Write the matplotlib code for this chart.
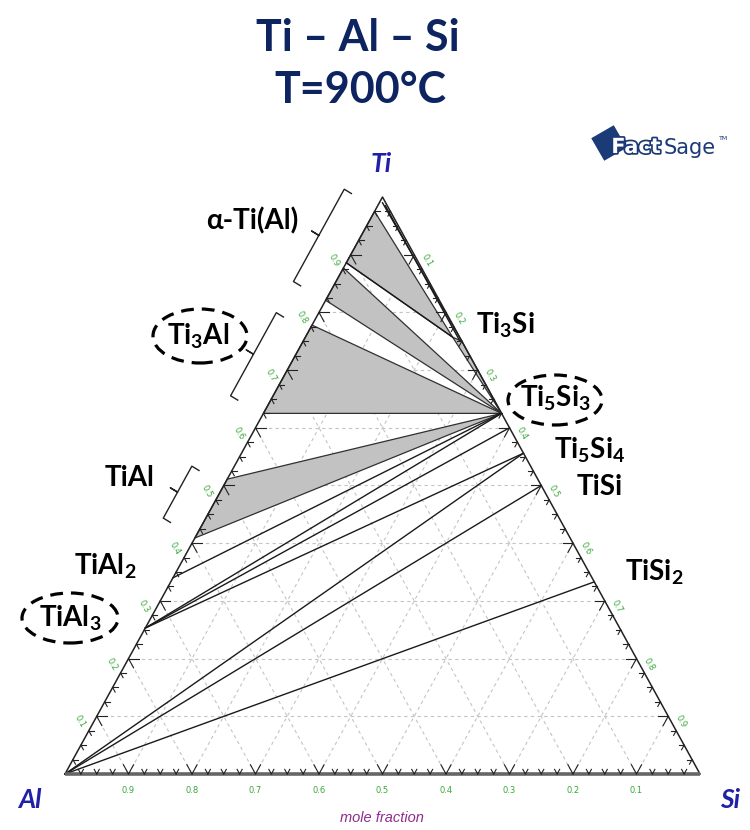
import numpy as np
import matplotlib
matplotlib.use("Agg")
import matplotlib.pyplot as plt
from matplotlib.patches import Polygon, Ellipse
from matplotlib.transforms import Affine2D
import matplotlib.patheffects as pe

plt.rcParams["mathtext.fontset"] = "custom"
plt.rcParams["mathtext.rm"] = "Lato:bold"
plt.rcParams["mathtext.it"] = "Lato:bold:italic"
plt.rcParams["mathtext.bf"] = "Lato:bold"

# ---------------- data (mole fractions: x_Ti, x_Si ; x_Al = 1 - x_Ti - x_Si) ----------------
title_lines = ["Ti – Al – Si", "T=900°C"]
corner_labels = ["Ti", "Al", "Si"]
tick_values = [0.1, 0.2, 0.3, 0.4, 0.5, 0.6, 0.7, 0.8, 0.9]

# two-phase (shaded) regions, vertices as (x_Ti, x_Si)
region_alpha_Ti3Si = [(0.975, 0.0), (0.757, 0.232), (0.886, 0.0)]
region_Ti3Si_Ti5Si3 = [(0.757, 0.232), (0.75, 0.25), (0.625, 0.375)]
region_alpha_Ti5Si3 = [(0.877, 0.0), (0.625, 0.375), (0.821, 0.0)]
region_Ti3Al_Ti5Si3 = [(0.778, 0.0), (0.625, 0.375), (0.625, 0.0)]
region_TiAl_Ti5Si3 = [(0.511, 0.0), (0.625, 0.375), (0.409, 0.0)]
shaded_regions = [region_alpha_Ti3Si, region_Ti3Si_Ti5Si3, region_alpha_Ti5Si3,
                  region_Ti3Al_Ti5Si3, region_TiAl_Ti5Si3]

# tie lines (start, end) as (x_Ti, x_Si)
tie_start = [(0.886, 0.0), (0.99, 0.005), (0.985, 0.012), (0.34, 0.0), (0.253, 0.0),
             (0.253, 0.0), (0.253, 0.0), (0.0, 0.0), (0.0, 0.0), (0.0, 0.0)]
tie_end = [(0.757, 0.232), (0.75, 0.25), (0.752, 0.245), (0.625, 0.375), (0.625, 0.375),
           (0.60, 0.40), (0.556, 0.444), (0.556, 0.444), (0.5, 0.5), (0.333, 0.667)]

# phase labels
phase_labels = ["α-Ti(Al)", "Ti$_3$Al", "TiAl", "TiAl$_2$", "TiAl$_3$",
                "Ti$_3$Si", "Ti$_5$Si$_3$", "Ti$_5$Si$_4$", "TiSi", "TiSi$_2$"]
# brackets on Ti-Al edge (x_Ti ranges)
bracket_ranges = [(0.82, 0.98), (0.622, 0.766), (0.41, 0.50)]

# ---------------- figure ----------------
W, H = 750, 830
fig = plt.figure(figsize=(W / 100, H / 100), dpi=100)
ax = fig.add_axes([0, 0, 1, 1])
SQ3 = np.sqrt(3) / 2
sx = 635.0            # px per data unit in x
sy = 577.0 / SQ3      # px per data unit in y
ax.set_xlim(-65 / sx, (W - 65) / sx)
ax.set_ylim(-(H - 774) / sy, 774 / sy)
ax.axis("off")


def T(ti, si):
    return si + 0.5 * ti, ti * SQ3


def fpos(px, py):
    return px / W, 1 - py / H


LABEL_FONT = ["Lato", "DejaVu Sans"]

# grid
for v in tick_values:
    for a, b in [(T(v, 0), T(v, 1 - v)), (T(0, v), T(1 - v, v)), (T(1 - v, 0), T(0, 1 - v))]:
        ax.plot([a[0], b[0]], [a[1], b[1]], ls=(0, (3, 3)), color="#c4c4c4", lw=0.8, zorder=1)

# shaded regions
for reg in shaded_regions:
    pts = [T(ti, si) for ti, si in reg]
    ax.add_patch(Polygon(pts, closed=True, facecolor="#c2c2c2", edgecolor="#303030",
                         lw=0.9, zorder=2))

# tie lines
for (a, b) in zip(tie_start, tie_end):
    xs, ys = zip(T(*a), T(*b))
    ax.plot(xs, ys, color="#1a1a1a", lw=1.0, zorder=3)

# triangle edges
xs, ys = zip(T(0, 0), T(1, 0), T(0, 1))
ax.plot(xs, ys, color="#222222", lw=1.1, zorder=4)
xs, ys = zip(T(0, 0), T(0, 1))
ax.plot(xs, ys, color="#666666", lw=2.6, zorder=4, solid_capstyle="butt")

# ticks
minor = np.arange(0.025, 0.976, 0.025)
for v in minor:
    major = abs(v * 10 - round(v * 10)) < 1e-6
    L = 0.016 if major else 0.008
    for d in [(L, 0.0), (L, -L)]:
        p0 = T(0, v); p1 = T(d[0], v + d[1])
        ax.plot([p0[0], p1[0]], [p0[1], p1[1]], color="#222222", lw=0.8, zorder=4)
    for d in [(0.0, L), (-L, L)]:
        p0 = T(v, 0); p1 = T(v + d[0], d[1])
        ax.plot([p0[0], p1[0]], [p0[1], p1[1]], color="#222222", lw=0.8, zorder=4)
    for d in [(0.0, -L), (-L, 0.0)]:
        p0 = T(v, 1 - v); p1 = T(v + d[0], 1 - v + d[1])
        ax.plot([p0[0], p1[0]], [p0[1], p1[1]], color="#222222", lw=0.8, zorder=4)

# tick labels
GREEN = "#38a838"
for v in tick_values:
    lab = f"{v:.1f}"
    ax.annotate(lab, T(v, 0), xytext=(-12, -4), textcoords="offset points",
                fontsize=6, color=GREEN, rotation=-60, ha="center", va="center")
    ax.annotate(lab, T(1 - v, v), xytext=(9, -4), textcoords="offset points",
                fontsize=6, color=GREEN, rotation=-60, ha="center", va="center")
    ax.annotate(f"{1 - v:.1f}", T(0, v), xytext=(0, -12), textcoords="offset points",
                fontsize=6, color=GREEN, ha="center", va="center")

# corner labels
BLUE = "#2020a8"
for lab, (px, py) in zip(corner_labels, [(381, 164), (30, 800), (730, 800)]):
    fig.text(*fpos(px, py), lab, fontsize=19, fontweight="bold", style="italic",
             color=BLUE, ha="center", va="center", family=LABEL_FONT)
fig.text(*fpos(382, 818), "mole fraction", fontsize=10.5, style="italic",
         color="#8e2a8e", ha="center", va="center", family=["Liberation Sans", "DejaVu Sans"])

# title
NAVY = "#0d2461"
fig.text(*fpos(358, 38), title_lines[0], fontsize=31, fontweight="bold", color=NAVY,
         ha="center", va="center", family=LABEL_FONT)
fig.text(*fpos(360, 90), title_lines[1], fontsize=31, fontweight="bold", color=NAVY,
         ha="center", va="center", family=LABEL_FONT)

# phase labels
label_px = [(252, 221), (198, 336), (130, 478), (105, 566), (70, 618),
            (505, 325), (555, 398), (590, 450), (600, 487), (654, 572)]
for lab, (px, py) in zip(phase_labels, label_px):
    fig.text(*fpos(px, py), lab, fontsize=20, fontweight="bold", color="black",
             ha="center", va="center", family=LABEL_FONT)

# dashed ellipses
for (cx, cy, w, h) in [(200, 336, 94, 54), (70, 618, 96, 50), (555, 400, 94, 50)]:
    fig.add_artist(Ellipse(fpos(cx, cy), w / W, h / H, transform=fig.transFigure,
                           fill=False, ls=(0, (4, 2.5)), lw=2.3, color="black"))

# brackets along Ti-Al edge
nrm = np.array([-SQ3, 0.5])  # outward normal in data units
off, cap, nub = 0.058, 0.013, 0.013
for t1, t2 in bracket_ranges:
    p1 = np.array(T(t1, 0)) + off * nrm
    p2 = np.array(T(t2, 0)) + off * nrm
    pm = (p1 + p2) / 2
    pts = [p1 - cap * nrm, p1, pm, pm + nub * nrm, pm, p2, p2 - cap * nrm]
    xs, ys = zip(*pts)
    ax.plot(xs, ys, color="#222222", lw=1.0, zorder=4, clip_on=False)

# FactSage logo (approximation)
LOGO = "#1b3a78"
sq = plt.Rectangle((-13, -13), 26, 26, facecolor=LOGO, edgecolor="none",
                   transform=Affine2D().rotate_deg(30).translate(609, H - 143))
fig.add_artist(sq)
fig.text(*fpos(636, 147), "Fact", fontsize=15, fontweight="bold", color="white",
         ha="center", va="center", family=["DejaVu Sans"],
         path_effects=[pe.withStroke(linewidth=2.5, foreground=LOGO)])
fig.text(*fpos(690, 148), "Sage", fontsize=15, color=LOGO,
         ha="center", va="center", family=["DejaVu Sans"])
fig.text(*fpos(724, 139), "TM", fontsize=4.5, color=LOGO, ha="center", va="center")

fig.savefig("out.png", dpi=100, facecolor="white")
